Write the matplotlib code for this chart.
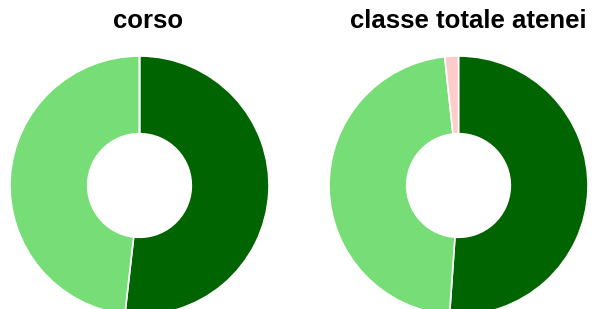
import matplotlib
matplotlib.use('Agg')
import matplotlib.pyplot as plt

# donut data, slices clockwise from 12 o'clock
titles = ['corso', 'classe totale atenei']
labels = ['dark', 'light', 'pink']
corso = [51.8, 48.2, 0.0]
classe = [51.1, 47.2, 1.7]
colors = ['#006400', '#77dd77', '#ffcccc']

W, H = 596, 309
fig = plt.figure(figsize=(W / 100, H / 100), dpi=100)

R = 129.5
centers = [(139.5, 185.5), (458.5, 185.5)]
title_x = [148.5, 468]

for (cx, cy), vals, title, tx in zip(centers, [corso, classe], titles, title_x):
    ax = fig.add_axes([(cx - R) / W, (H - cy - R) / H, 2 * R / W, 2 * R / H])
    ax.pie(vals, colors=colors, startangle=90, counterclock=False, radius=1,
           wedgeprops=dict(width=0.6, edgecolor='white', linewidth=1.2))
    ax.set_xlim(-1, 1)
    ax.set_ylim(-1, 1)
    ax.axis('off')
    fig.text(tx / W, (H - 28) / H, title, ha='center', va='baseline',
             fontsize=18.5, fontweight='bold', family='Liberation Sans')

fig.savefig('out.png', dpi=100)
